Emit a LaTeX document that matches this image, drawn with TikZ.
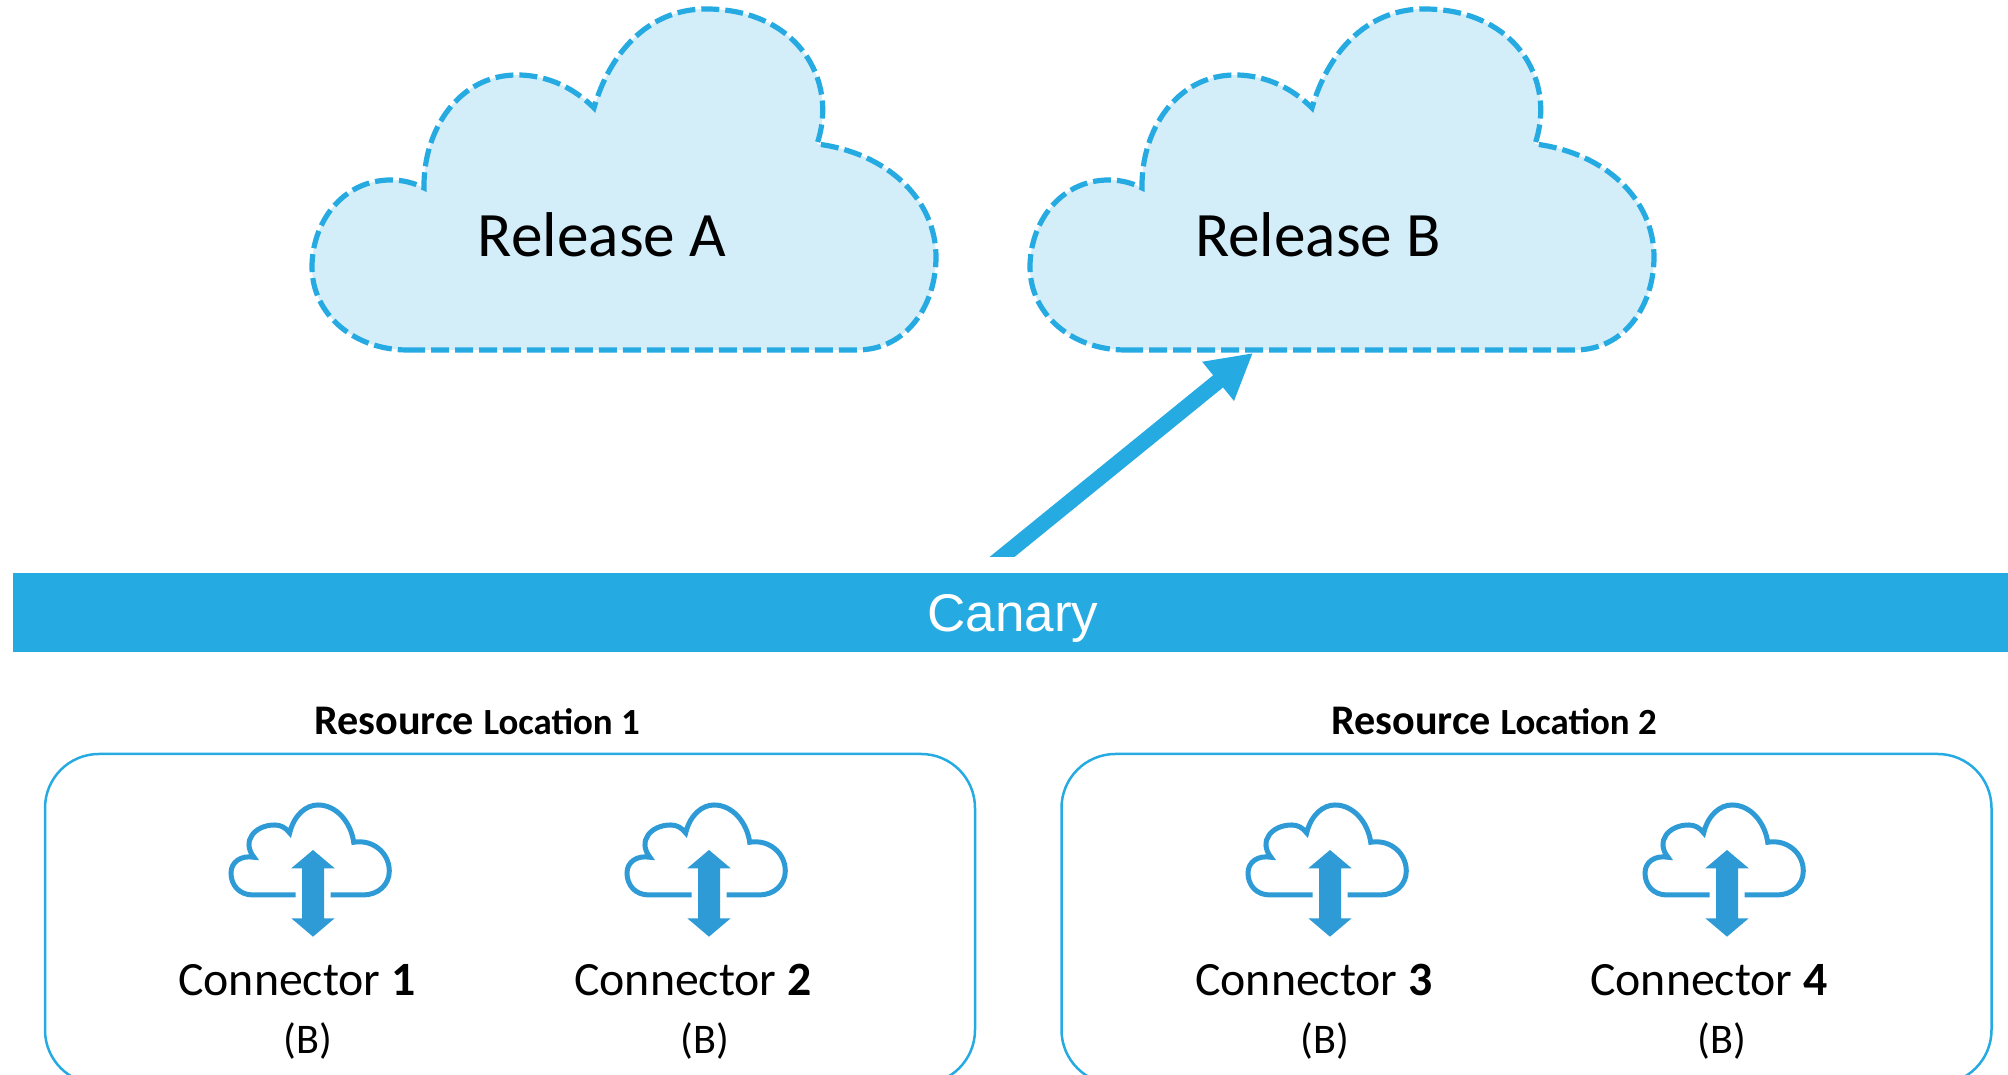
\documentclass[tikz,border=0pt]{standalone}
\usepackage{fontspec}
\setmainfont{Carlito}
\newfontfamily\barfont{Liberation Sans}
\usetikzlibrary{arrows.meta}
\definecolor{canaryblue}{HTML}{25AAE2}
\definecolor{cloudfill}{HTML}{D3EDF9}
\definecolor{iconblue}{HTML}{2E9BD6}
\tikzset{
    releasecloud/.pic={
        \path [draw=canaryblue,fill=cloudfill,line width=.052cm,dash pattern=on .18cm off .06cm]
            (0,0) -- (4.5,0) .. controls (5,0) and (5.29,.45) .. (5.29,.93)
            .. controls (5.29,1.5) and (4.81,1.97) .. (4.1,2.06)
            .. controls (4.32,2.7) and (3.9,3.41) .. (2.99,3.41)
            .. controls (2.4,3.41) and (2.02,2.95) .. (1.87,2.42)
            .. controls (1.69,2.6) and (1.43,2.75) .. (1.1,2.75)
            .. controls (.52,2.75) and (.16,2.2) .. (.17,1.62)
            .. controls (.07,1.67) and (-.04,1.7) .. (-.16,1.7)
            .. controls (-.65,1.7) and (-.95,1.27) .. (-.95,.83)
            .. controls (-.95,.35) and (-.52,0) .. (0,0) -- cycle;
        \coordinate (-tip) at (1.28,-.03);
    },
    connectoricon/.pic={
        \draw [iconblue,line width=.05cm]
            (-.173,0) -- (-.6,0) .. controls (-.74,0) and (-.82,.1) .. (-.82,.22)
            .. controls (-.82,.33) and (-.72,.4) .. (-.59,.377)
            .. controls (-.72,.54) and (-.58,.7) .. (-.383,.7)
            .. controls (-.32,.7) and (-.27,.67) .. (-.233,.62)
            .. controls (-.19,.8) and (-.07,.9) .. (.05,.9)
            .. controls (.24,.9) and (.38,.72) .. (.407,.527)
            .. controls (.6,.56) and (.763,.42) .. (.763,.24)
            .. controls (.763,.1) and (.65,0) .. (.5,0) -- (.177,0);
        \fill [iconblue] (0,.45) -- (.217,.267) -- (.11,.267) -- (.11,-.233) -- (.217,-.233)
            -- (0,-.417) -- (-.217,-.233) -- (-.11,-.233) -- (-.11,.267) -- (-.217,.267) -- cycle;
    },
    resourcebox/.style={draw=canaryblue,line width=.025cm,rounded corners=.54cm,
        minimum width=9.3cm,minimum height=3.3cm},
    releaselabel/.style={font=\fontsize{18}{22}\selectfont},
    connectorlabel/.style={font=\fontsize{13.6}{16}\selectfont},
    replicalabel/.style={font=\fontsize{12}{14}\selectfont},
    resourcelabel/.style={font=\fontsize{12}{14}\selectfont\bfseries}
}
\newcommand{\smallloc}[1]{{\fontsize{10.5}{14}\selectfont #1}}

\begin{document}
\begin{tikzpicture}
\clip (0,0) rectangle (20.08,10.75);

\pic (relA) at (4.07,7.25) {releasecloud};
\pic (relB) at (11.25,7.25) {releasecloud};
\node [releaselabel] (labelA) at (6.02,8.4) {Release A};
\node [releaselabel] (labelB) at (13.18,8.4) {Release B};

\node [fill=canaryblue,text=white,minimum width=20cm,minimum height=.79cm,inner sep=0pt,
       font=\barfont\fontsize{15.1}{18}\selectfont] (canary) at (10.13,4.625) {\raisebox{-.195cm}[0pt][0pt]{Canary}};

\coordinate (canaryfoot) at (9.897,5.08);
\begin{scope}
    \clip (0,5.18) rectangle (20.08,10.75);
    \draw [canaryblue,line width=.157cm,-{Triangle[length=.45cm,width=.47cm]}] (canaryfoot) -- (relB-tip);
\end{scope}

\begin{scope}[every node/.style={resourcebox}]
    \node (boxA) at (5.1,1.56) {};
    \node (boxB) at (15.265,1.56) {};
\end{scope}

\node [resourcelabel] (resA) at (4.77,3.54) {Resource \smallloc{Location 1}};
\node [resourcelabel] (resB) at (14.94,3.54) {Resource \smallloc{Location 2}};

\pic (conn1) at (3.13,1.8) {connectoricon};
\pic (conn2) at (7.09,1.8) {connectoricon};
\pic (conn3) at (13.3,1.8) {connectoricon};
\pic (conn4) at (17.27,1.8) {connectoricon};

\begin{scope}[every node/.style={connectorlabel}]
    \node (name1) at (2.97,.95) {Connector \textbf{1}};
    \node (name2) at (6.93,.95) {Connector \textbf{2}};
    \node (name3) at (13.14,.95) {Connector \textbf{3}};
    \node (name4) at (17.09,.95) {Connector \textbf{4}};
\end{scope}

\begin{scope}[every node/.style={replicalabel}]
    \node (rep1) at (3.08,.34) {(B)};
    \node (rep2) at (7.05,.34) {(B)};
    \node (rep3) at (13.25,.34) {(B)};
    \node (rep4) at (17.22,.34) {(B)};
\end{scope}

\end{tikzpicture}
\end{document}
